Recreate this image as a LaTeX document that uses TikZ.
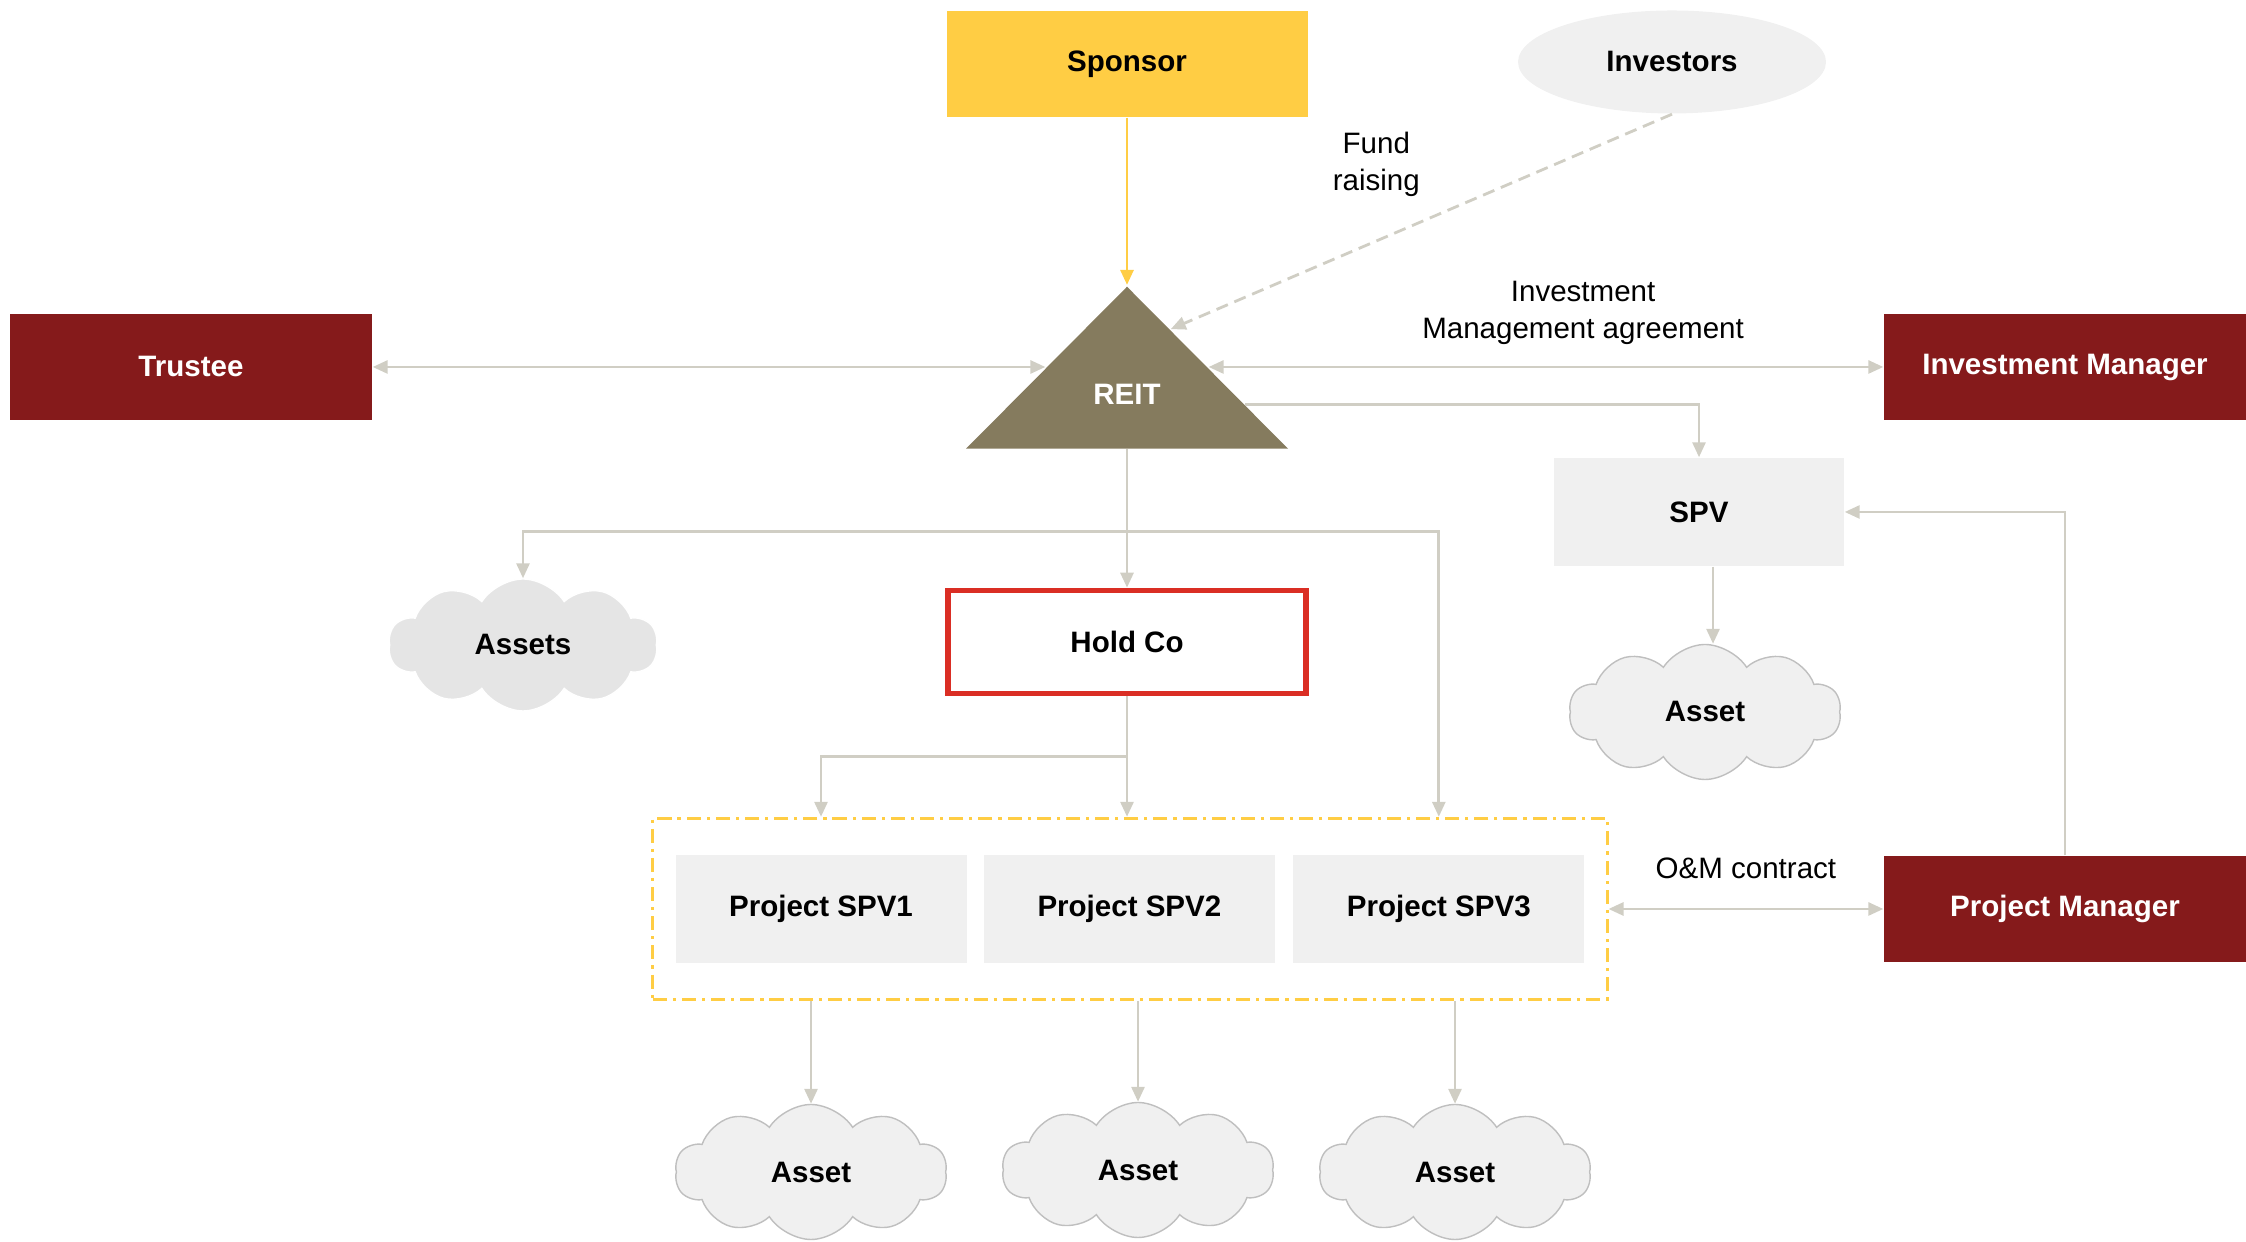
\documentclass[tikz,border=0pt]{standalone}
\usepackage{fontspec}
\setmainfont{Liberation Sans}
\usepackage{xcolor}
\usepackage{tikz}
\usetikzlibrary{arrows.meta, positioning, shapes.geometric, shapes.symbols, fit}
\definecolor{REITRed}{RGB}{133,26,27}
\definecolor{REITYellow}{RGB}{255,205,68}
\definecolor{REITOlive}{RGB}{133,123,94}
\definecolor{REITGrey}{RGB}{240,240,240}
\definecolor{REITLine}{RGB}{208,206,196}
\definecolor{HoldRed}{RGB}{218,46,36}

\begin{document}
\begin{tikzpicture}[
    font=\fontsize{8.4}{10.5}\selectfont,
    bold/.style={font=\fontsize{8.4}{10.5}\selectfont\bfseries},
    party/.style={rectangle, bold, fill=REITRed, text=white, minimum width=3.62cm, minimum height=1.06cm},
    spvbox/.style={rectangle, bold, fill=REITGrey, minimum width=2.91cm, minimum height=1.08cm},
    asset/.style={cloud, cloud puffs=10, cloud puff arc=115, cloud ignores aspect, bold, fill=REITGrey, draw=black!25, minimum width=2.72cm, minimum height=1.35cm, inner sep=0pt},
    arrow/.style={-{Triangle[width=0.13cm,length=0.15cm]}, line width=0.8pt, draw=REITLine},
    twoway/.style={arrow, {Triangle[width=0.13cm,length=0.15cm]}-{Triangle[width=0.13cm,length=0.15cm]}}
]
\useasboundingbox (0,0) rectangle (22.46,12.42);

\node[rectangle, bold, fill=REITYellow, minimum width=3.61cm, minimum height=1.06cm] (sponsor) at (11.27,11.78) {Sponsor};
\node[ellipse, bold, fill=REITGrey, minimum width=3.08cm, minimum height=1.03cm] (investors) at (16.72,11.80) {Investors};
\node[isosceles triangle, isosceles triangle stretches, shape border rotate=90, fill=REITOlive, text=white, bold, minimum width=3.22cm, minimum height=1.62cm, inner sep=0pt] (reit) at (11.27,8.48) {REIT};
\node[party] (trustee) at (1.91,8.75) {Trustee};
\node[party] (invmgr) at (20.65,8.75) {Investment Manager};
\node[spvbox, minimum width=2.90cm] (spv) at (16.99,7.30) {SPV};
\node[rectangle, bold, draw=HoldRed, line width=1.6pt, fill=white, minimum width=3.58cm, minimum height=1.03cm] (holdco) at (11.27,6.00) {Hold Co};
\node[asset, fill=black!10, draw=white, minimum width=2.69cm, minimum height=1.32cm] (assets) at (5.23,5.97) {Assets};
\node[asset] (spvasset) at (17.05,5.30) {Asset};

\node[spvbox] (spv1) at (8.21,3.33) {Project SPV1};
\node[spvbox, right=0.16cm of spv1] (spv2) {Project SPV2};
\node[spvbox, right=0.17cm of spv2] (spv3) {Project SPV3};
\node[draw=REITYellow, line width=0.85pt, dash pattern=on 4pt off 1.7pt on 0.9pt off 1.7pt, fit=(spv1)(spv3), inner xsep=0.22cm, inner ysep=0.36cm] (grp) {};
\node[party] (pm) at (20.65,3.33) {Project Manager};

\node[asset] (asset1) at (8.11,0.70) {Asset};
\node[asset] (asset2) at (11.38,0.72) {Asset};
\node[asset] (asset3) at (14.55,0.70) {Asset};

\draw[arrow, draw=REITYellow] (sponsor) -- (reit.apex);
\draw[arrow, dash pattern=on 3.5pt off 2pt] (investors.south) -- node[pos=0.59, above=0.31cm, align=center] (fundlbl) {Fund\\raising} (reit.56);
\draw[twoway] (trustee.east) -- (trustee.east -| reit.162);
\draw[twoway] (invmgr.west -| reit.18) -- node[pos=0.555, above=0.09cm, align=center] (imalbl) {Investment\\Management agreement} (invmgr.west);
\draw[arrow] (reit.-5) -| (spv.north);
\draw[arrow] (reit.south) -- (holdco.north);
\coordinate (fork) at ([yshift=-0.82cm]reit.south);
\draw[arrow] (fork) -| (assets.north);
\draw[arrow] (fork) -| (spv3.north |- grp.north);
\draw[arrow] (holdco.south) -- (holdco.south |- grp.north);
\coordinate (split) at ([yshift=-0.6cm]holdco.south);
\draw[arrow] (split) -| (spv1.north |- grp.north);
\draw[arrow] ([xshift=0.08cm]spvasset.north |- spv.south) -- ([xshift=0.08cm]spvasset.north);
\draw[arrow] (pm.north) |- (spv.east);
\draw[twoway] (grp.east |- pm.west) -- node[above=0.17cm] (omlbl) {O\&M contract} (pm.west);
\foreach \n in {1,2,3}
    \draw[arrow] (asset\n.north |- grp.south) -- (asset\n.north);
\end{tikzpicture}
\end{document}
